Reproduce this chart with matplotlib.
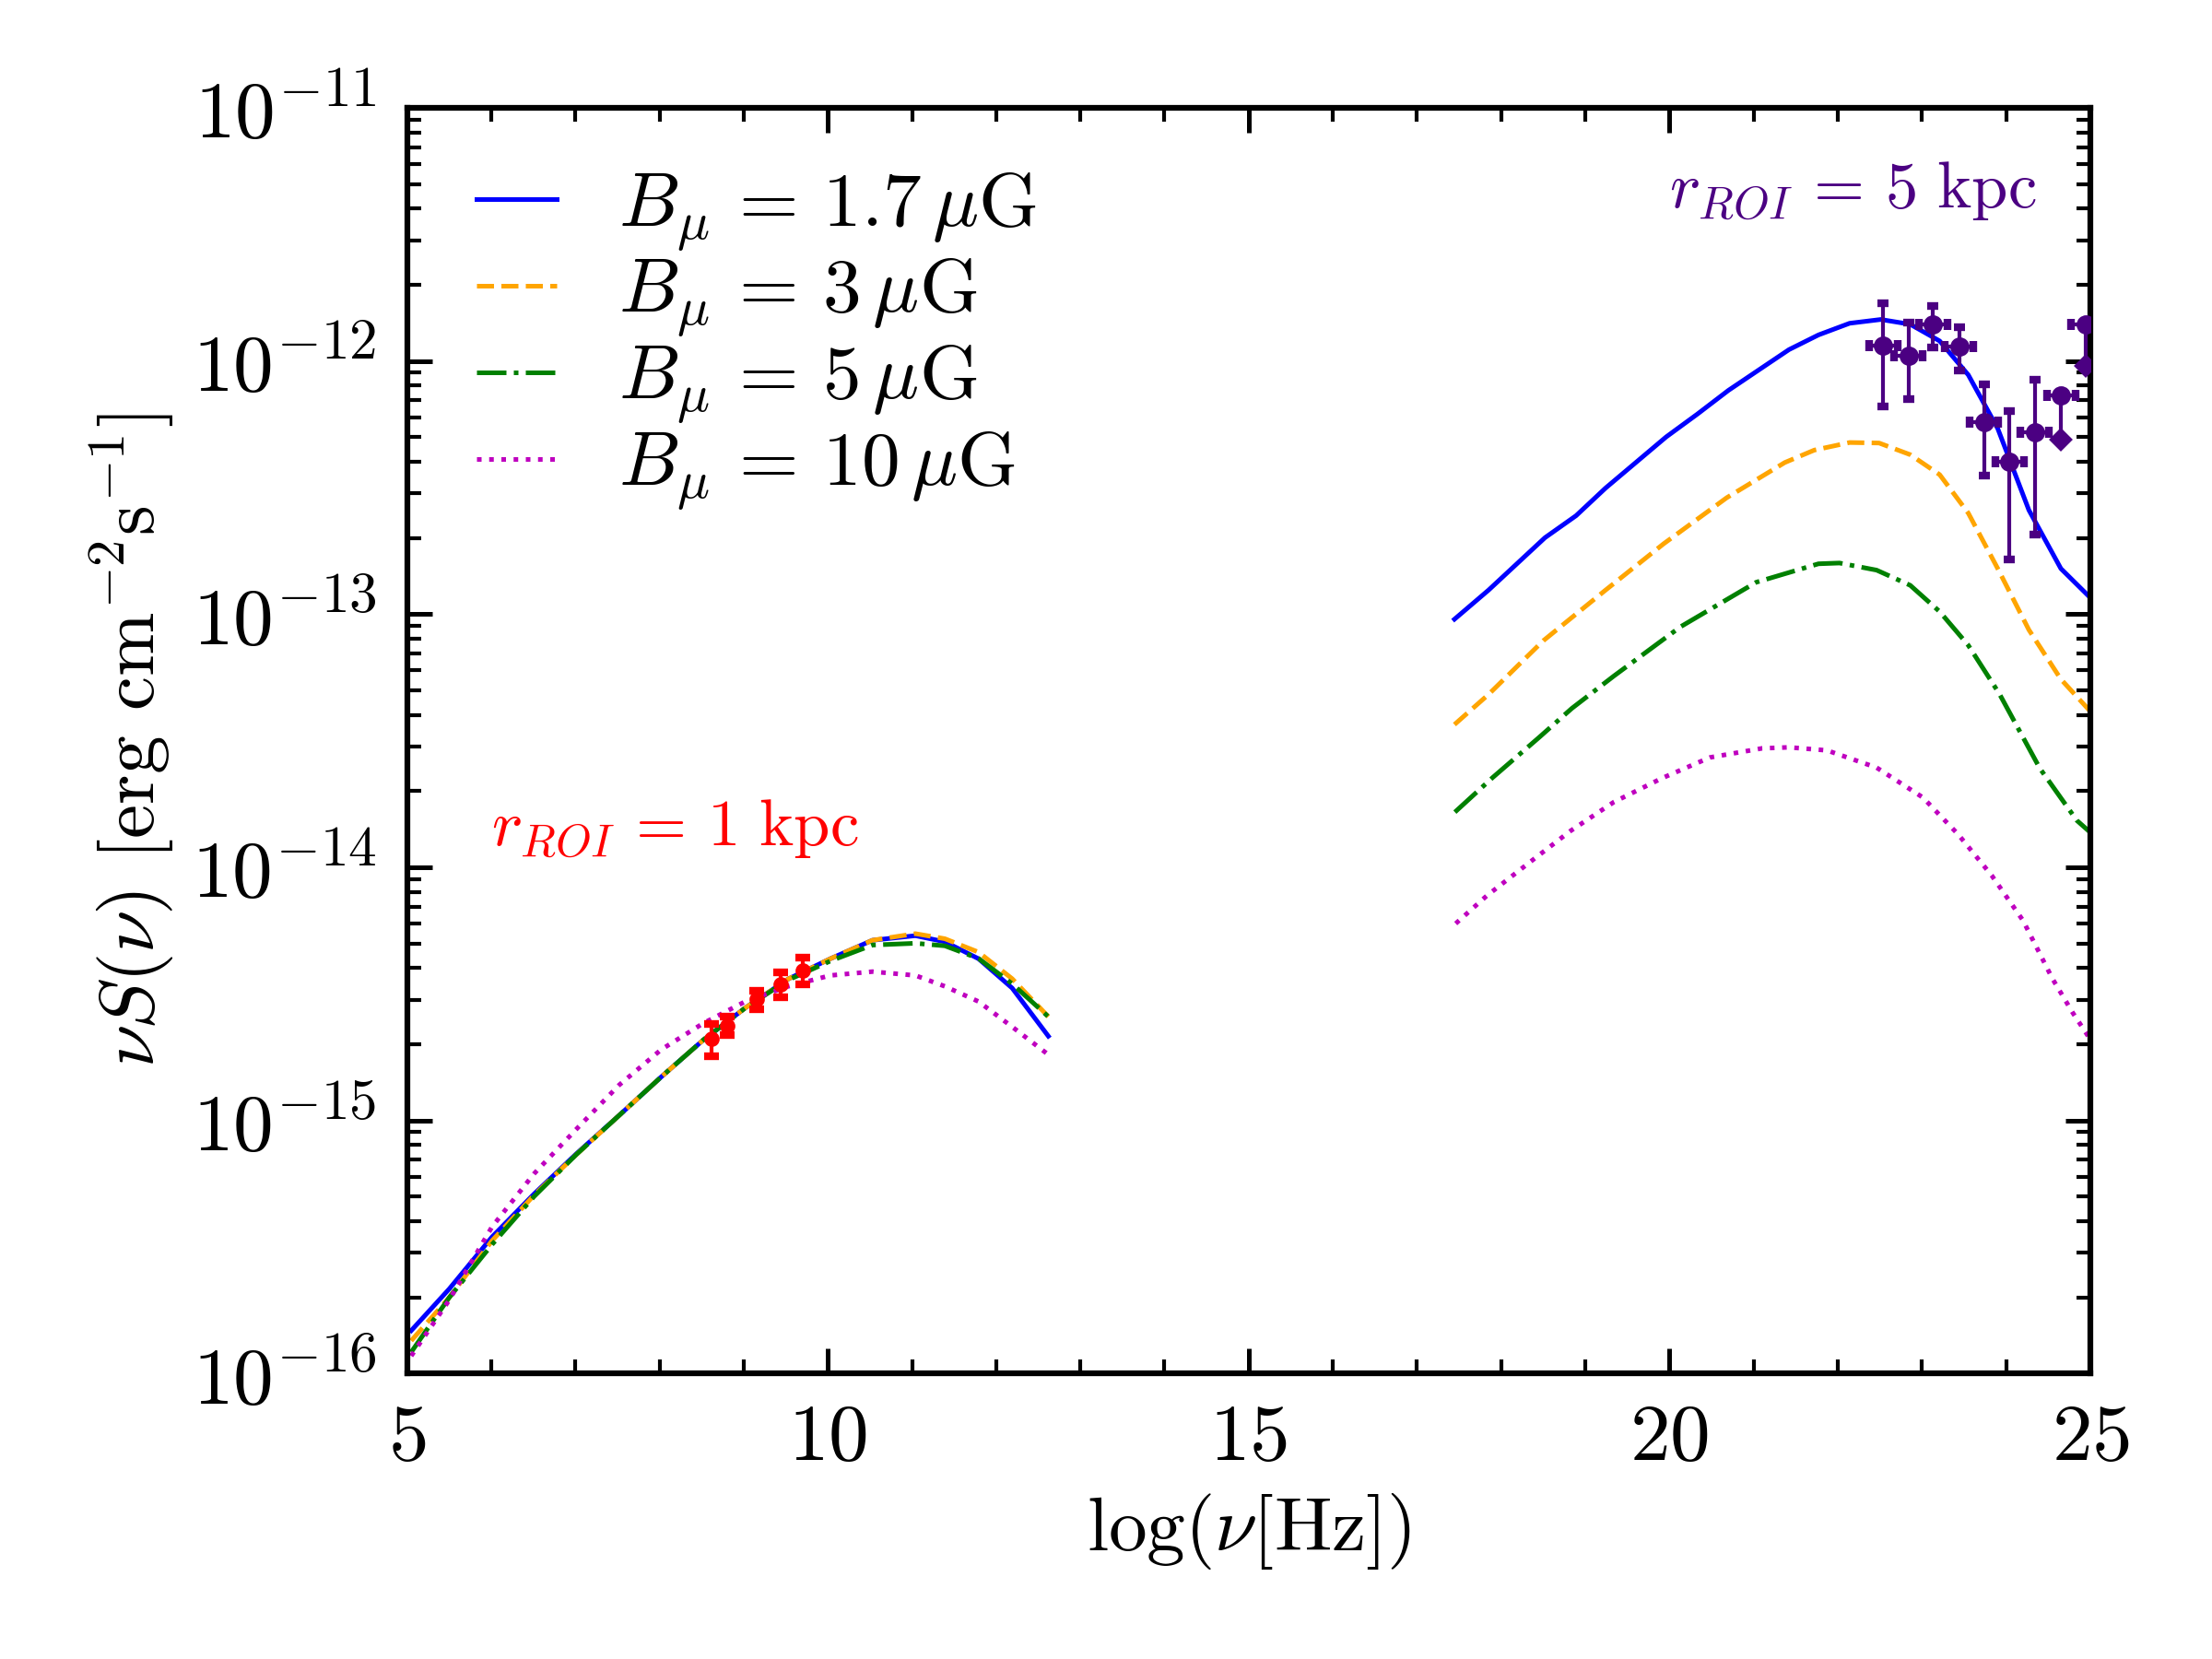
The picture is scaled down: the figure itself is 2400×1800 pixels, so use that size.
import numpy as np
import matplotlib
matplotlib.use("Agg")
import matplotlib.pyplot as plt

plt.rcParams.update({
    "font.family": "serif",
    "font.serif": ["cmr10"],
    "mathtext.fontset": "cm",
    "axes.formatter.use_mathtext": True,
    "axes.unicode_minus": False,
})

# ---------------- data (log10 of nu*S(nu)) ----------------
# radio part
radio_x = [5.05, 5.50, 6.01, 6.51, 7.01, 7.52, 8.02, 8.52, 9.02, 9.53,
           10.03, 10.53, 11.04, 11.39, 11.79, 12.19, 12.62]
radio_b17 = [-15.83, -15.666, -15.46, -15.29, -15.132, -14.98, -14.828, -14.682,
             -14.555, -14.441, -14.361, -14.288, -14.27, -14.294, -14.361, -14.477, -14.667]
radio_b3 = [-15.87, -15.70, -15.475, -15.295, -15.135, -14.98, -14.828, -14.682,
            -14.555, -14.441, -14.361, -14.288, -14.262, -14.282, -14.335, -14.44, -14.59]
radio_b5 = [-15.915, -15.70, -15.49, -15.30, -15.135, -14.98, -14.828, -14.682,
            -14.555, -14.445, -14.37, -14.307, -14.30, -14.31, -14.36, -14.46, -14.59]
radio_b10 = [-15.93, -15.71, -15.42, -15.21, -15.035, -14.86, -14.72, -14.616,
             -14.53, -14.47, -14.427, -14.412, -14.427, -14.47, -14.53, -14.63, -14.74]

# gamma part
g_x_b17 = [17.445, 17.85, 18.52, 18.89, 19.24, 19.96, 20.33, 20.70, 21.08, 21.42,
           21.77, 22.14, 22.51, 22.86, 23.21, 23.55, 23.90, 24.27, 24.65, 25.0]
g_b17 = [-13.02, -12.905, -12.698, -12.611, -12.502, -12.30, -12.21, -12.116, -12.031,
         -11.955, -11.897, -11.851, -11.836, -11.855, -11.921, -12.055, -12.267, -12.589,
         -12.82, -12.935]
g_x_b3 = [17.445, 17.85, 18.50, 19.24, 19.93, 20.68, 21.37, 21.72, 22.14, 22.49,
          22.86, 23.21, 23.55, 23.90, 24.27, 24.65, 25.0]
g_b3 = [-13.436, -13.317, -13.105, -12.905, -12.722, -12.54, -12.401, -12.352, -12.322,
        -12.324, -12.37, -12.449, -12.601, -12.82, -13.062, -13.257, -13.384]
g_x_b5 = [17.45, 17.90, 18.45, 18.84, 19.34, 20.13, 21.03, 21.77, 22.02, 22.46,
          22.86, 23.21, 23.55, 23.92, 24.40, 24.84, 25.0]
g_b5 = [-13.782, -13.645, -13.487, -13.372, -13.244, -13.05, -12.874, -12.801, -12.798,
        -12.826, -12.886, -12.99, -13.123, -13.315, -13.609, -13.815, -13.862]
g_x_b10 = [17.46, 17.83, 18.32, 18.82, 19.34, 19.91, 20.48, 21.10, 21.42, 21.87,
           22.46, 23.01, 23.43, 23.83, 24.20, 24.55, 24.79, 25.0]
g_b10 = [-14.222, -14.112, -13.985, -13.857, -13.742, -13.648, -13.566, -13.53, -13.526,
         -13.538, -13.606, -13.724, -13.87, -14.033, -14.21, -14.44, -14.574, -14.68]

# radio data points (r_ROI = 1 kpc)
radio_pts_x = [8.62, 8.80, 9.155, 9.44, 9.70]
radio_pts_y = [2.10e-15, 2.37e-15, 3.01e-15, 3.46e-15, 3.92e-15]
radio_pts_err = [0.31e-15, 0.20e-15, 0.25e-15, 0.39e-15, 0.47e-15]

# gamma data points (r_ROI = 5 kpc), log10 values
gam_x = [22.54, 22.84, 23.13, 23.44, 23.74, 24.04, 24.34]
gam_y = [-11.940, -11.980, -11.855, -11.943, -12.243, -12.398, -12.280]
gam_hi = [-11.770, -11.849, -11.782, -11.867, -12.094, -12.197, -12.073]
gam_lo = [-12.179, -12.150, -11.948, -12.037, -12.453, -12.783, -12.684]
gam_xerr = 0.17
# upper limits
ul_x = [24.65, 24.94]
ul_y = [-12.137, -11.855]
ul_lo = [-12.31, -12.018]

labels = [r"$B_\mu\,=\,1.7\,\mu{\rm G}$", r"$B_\mu\,=\,3\,\mu{\rm G}$",
          r"$B_\mu\,=\,5\,\mu{\rm G}$", r"$B_\mu\,=\,10\,\mu{\rm G}$"]
colors = ["blue", "orange", "green", "m"]
styles = ["-", "--", "-.", ":"]

# ---------------- plot ----------------
fig = plt.figure(figsize=(8, 6), dpi=300)
ax = fig.add_axes([0.184, 0.172, 0.761, 0.763])

p = lambda a: 10 ** np.asarray(a)
radio_sets = [radio_b17, radio_b3, radio_b5, radio_b10]
gx_sets = [g_x_b17, g_x_b3, g_x_b5, g_x_b10]
g_sets = [g_b17, g_b3, g_b5, g_b10]
lw = 1.2
for i in range(4):
    ax.plot(radio_x, p(radio_sets[i]), color=colors[i], ls=styles[i], lw=lw, label=labels[i])
    ax.plot(gx_sets[i], p(g_sets[i]), color=colors[i], ls=styles[i], lw=lw)

ax.errorbar(radio_pts_x, radio_pts_y, yerr=radio_pts_err, fmt="o", color="red",
            ms=3, elinewidth=1.0, capsize=2, capthick=2, zorder=5)

gy = p(gam_y)
yerr = [gy - p(gam_lo), p(gam_hi) - gy]
ax.errorbar(gam_x, gy, xerr=gam_xerr, yerr=yerr, fmt="o", color="#4B0082",
            ms=4, elinewidth=1.0, capsize=1.4, capthick=2, zorder=5)
uy = p(ul_y)
ax.errorbar(ul_x, uy, xerr=gam_xerr, fmt="o", color="#4B0082",
            ms=4, elinewidth=1.0, capsize=1.4, capthick=2, zorder=5)
ax.vlines(ul_x, p(ul_lo), uy, color="#4B0082", lw=1.0, zorder=5)
ax.plot(ul_x, p(ul_lo), "D", color="#4B0082", ms=3.5, zorder=5)

ax.set_yscale("log")
ax.set_xlim(5, 25)
ax.set_ylim(1e-16, 1e-11)
ax.set_xticks([5, 10, 15, 20, 25])
ax.xaxis.set_minor_locator(matplotlib.ticker.MultipleLocator(1))
ax.yaxis.set_minor_locator(matplotlib.ticker.LogLocator(base=10, subs=np.arange(2, 10), numticks=20))
ax.yaxis.set_minor_formatter(matplotlib.ticker.NullFormatter())

ax.tick_params(which="both", direction="in", top=True, right=True, labelsize=21)
ax.tick_params(which="major", length=6.5, width=1.2, pad=8)
ax.tick_params(which="minor", length=3.6, width=1.0)
for s in ax.spines.values():
    s.set_linewidth(1.5)

ax.set_xlabel(r"$\log(\nu[{\rm Hz}])$", fontsize=20)
ax.set_ylabel(r"$\nu S(\nu)$ [erg cm$^{-2}$s$^{-1}$]", fontsize=20)

ax.text(6.0, 1.22e-14, r"$r_{ROI}\,=\,1\ {\rm kpc}$", color="red", fontsize=17, va="baseline")
ax.text(20.0, 4.05e-12, r"$r_{ROI}\,=\,5\ {\rm kpc}$", color="#4B0082", fontsize=17, va="baseline")

ax.legend(loc="upper left", frameon=False, fontsize=20, handlelength=1.05,
          handletextpad=0.8, labelspacing=0.05, bbox_to_anchor=(0.0, 1.005))

fig.savefig("out.png", dpi=300)
